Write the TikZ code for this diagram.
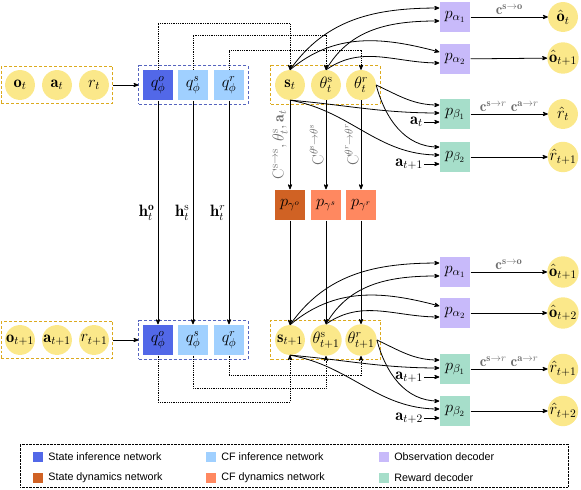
\RequirePackage{fix-cm}
\documentclass[tikz,border=0pt]{standalone}
\usepackage{fontspec}
\usepackage{tikz}
\usetikzlibrary{arrows,fit,positioning}
\newfontfamily\legendfont{Liberation Sans}

\begin{document}
\begin{tikzpicture}[x=1bp,y=1bp,>=stealth',
  every node/.style={font=\fontsize{16.5}{19}\selectfont},
  var/.style={circle,fill=varColor,inner sep=0pt,minimum size=30pt},
  net/.style={rectangle,inner sep=0pt,minimum size=31pt},
  grp/.style={draw,densely dashed,line width=0.8pt,inner sep=3.5pt},
  link/.style={->,thick},
  dotlink/.style={->,thick,densely dotted},
  clabel/.style={color=labelGray,font=\fontsize{15}{17}\selectfont,inner sep=2pt},
  vlabel/.style={color=labelGray,rotate=90,above,inner sep=2pt,font=\fontsize{16}{18}\selectfont},
  inlabel/.style={anchor=east,inner sep=1pt},
  legendbox/.style={rectangle,inner sep=0pt,minimum size=10pt},
  legendtext/.style={font=\legendfont\fontsize{10.8}{13}\selectfont,inner sep=1pt}]
\useasboundingbox (0,0) rectangle (581,490);
\definecolor{varColor}{RGB}{251,232,138}
\definecolor{varLine}{RGB}{220,170,30}
\definecolor{netLine}{RGB}{85,100,190}
\definecolor{infState}{RGB}{82,104,232}
\definecolor{infCF}{RGB}{160,208,255}
\definecolor{decObs}{RGB}{200,186,250}
\definecolor{decRew}{RGB}{166,222,202}
\definecolor{dynState}{RGB}{208,98,36}
\definecolor{dynCF}{RGB}{255,136,96}
\definecolor{labelGray}{RGB}{110,110,110}

% time t
\node[var] (oT) at (20,405) {$\mathbf{o}_t$};
\node[var] (aT) at (57,405) {$\mathbf{a}_t$};
\node[var] (rT) at (94,405) {$r_t$};
\node[grp,draw=varLine,fit=(oT)(aT)(rT)] (inT) {};
\node[net,fill=infState] (qoT) at (158,405) {$q^{o}_{\phi}$};
\node[net,fill=infCF] (qsT) at (193,405) {$q^{s}_{\phi}$};
\node[net,fill=infCF] (qrT) at (229,405) {$q^{r}_{\phi}$};
\node[grp,draw=netLine,fit=(qoT)(qsT)(qrT)] (qT) {};
\node[var] (sT) at (290,405) {$\mathbf{s}_t$};
\node[var] (thsT) at (326,405) {$\theta^{\mathrm{s}}_t$};
\node[var] (thrT) at (361,405) {$\theta^{r}_t$};
\node[grp,draw=varLine,inner sep=4pt,fit=(sT)(thsT)(thrT)] (zT) {};
\node[net,fill=decObs] (pa1T) at (455,473) {$p_{\alpha_1}$};
\node[net,fill=decObs] (pa2T) at (455,431) {$p_{\alpha_2}$};
\node[net,fill=decRew] (pb1T) at (455,376) {$p_{\beta_1}$};
\node[net,fill=decRew] (pb2T) at (455,333) {$p_{\beta_2}$};
\node[var] (ohT) at (563,473) {$\hat{\mathbf{o}}_t$};
\node[var] (ohTn) at (563,432) {$\hat{\mathbf{o}}_{t+1}$};
\node[var] (rhT) at (563,376) {$\hat{r}_t$};
\node[var] (rhTn) at (563,333) {$\hat{r}_{t+1}$};
\node[inlabel] (ab1T) at (424,368) {$\mathbf{a}_t$};
\node[inlabel] (ab2T) at (424,326) {$\mathbf{a}_{t+1}$};

% dynamics
\node[net,fill=dynState] (pgo) at (290,285) {$p_{\gamma^{o}}$};
\node[net,fill=dynCF] (pgs) at (326,285) {$p_{\gamma^{s}}$};
\node[net,fill=dynCF] (pgr) at (361,285) {$p_{\gamma^{r}}$};

% time t+1
\node[var] (oN) at (20,150) {$\mathbf{o}_{t+1}$};
\node[var] (aN) at (57,150) {$\mathbf{a}_{t+1}$};
\node[var] (rN) at (94,150) {$r_{t+1}$};
\node[grp,draw=varLine,fit=(oN)(aN)(rN)] (inN) {};
\node[net,fill=infState] (qoN) at (158,150) {$q^{o}_{\phi}$};
\node[net,fill=infCF] (qsN) at (193,150) {$q^{s}_{\phi}$};
\node[net,fill=infCF] (qrN) at (229,150) {$q^{r}_{\phi}$};
\node[grp,draw=netLine,fit=(qoN)(qsN)(qrN)] (qN) {};
\node[var] (sN) at (290,150) {$\mathbf{s}_{t+1}$};
\node[var] (thsN) at (326,150) {$\theta^{\mathrm{s}}_{t+1}$};
\node[var] (thrN) at (361,150) {$\theta^{r}_{t+1}$};
\node[grp,draw=varLine,inner sep=4pt,fit=(sN)(thsN)(thrN)] (zN) {};
\node[net,fill=decObs] (pa1N) at (455,218) {$p_{\alpha_1}$};
\node[net,fill=decObs] (pa2N) at (455,177) {$p_{\alpha_2}$};
\node[net,fill=decRew] (pb1N) at (455,121) {$p_{\beta_1}$};
\node[net,fill=decRew] (pb2N) at (455,79) {$p_{\beta_2}$};
\node[var] (ohN) at (563,218) {$\hat{\mathbf{o}}_{t+1}$};
\node[var] (ohNn) at (563,177) {$\hat{\mathbf{o}}_{t+2}$};
\node[var] (rhN) at (563,121) {$\hat{r}_{t+1}$};
\node[var] (rhNn) at (563,79) {$\hat{r}_{t+2}$};
\node[inlabel] (ab1N) at (424,113) {$\mathbf{a}_{t+1}$};
\node[inlabel] (ab2N) at (424,72) {$\mathbf{a}_{t+2}$};

% inference
\draw[link] (inT) -- (qT);
\draw[link] (inN) -- (qN);
\draw[link] (qoT) -- node[left] {$\mathbf{h}^{\mathbf{o}}_t$} (qoN);
\draw[link] (qsT) -- node[left] {$\mathbf{h}^{\mathrm{s}}_t$} (qsN);
\draw[link] (qrT) -- node[left] {$\mathbf{h}^{r}_t$} (qrN);
\coordinate (upO) at (0,467);
\coordinate (upS) at (0,455);
\coordinate (upR) at (0,440);
\coordinate (downO) at (0,88);
\coordinate (downS) at (0,102);
\coordinate (downR) at (0,115);
\draw[dotlink] (qoT.north) -- (qoT.north |- upO) -| (sT.north);
\draw[dotlink] (qsT.north) -- (qsT.north |- upS) -| (thsT.north);
\draw[dotlink] (qrT.north) -- (qrT.north |- upR) -| (thrT.north);
\draw[dotlink] (qoN.south) -- (qoN.south |- downO) -| (sN.south);
\draw[dotlink] (qsN.south) -- (qsN.south |- downS) -| (thsN.south);
\draw[dotlink] (qrN.south) -- (qrN.south |- downR) -| (thrN.south);

% transitions
\draw[link] (sT) -- node[vlabel] {$\mathrm{C}^{\mathrm{s}\to\mathrm{s}},\theta^{\mathrm{s}}_t,\mathbf{a}_t$} (pgo);
\draw[link] (thsT) -- node[vlabel] {$\mathrm{C}^{\theta^{\mathrm{s}}\to\theta^{\mathrm{s}}}$} (pgs);
\draw[link] (thrT) -- node[vlabel] {$\mathrm{C}^{\theta^{r}\to\theta^{r}}$} (pgr);
\draw[link] (pgo) -- (sN);
\draw[link] (pgs) -- (thsN);
\draw[link] (pgr) -- (thrN);

% decoders
\foreach \t in {T,N} {
  \draw[link] (s\t.north) to[out=55,in=180] ([yshift=9pt]pa1\t.west);
  \draw[link] (s\t.north) to[out=40,in=165] ([yshift=7pt]pa2\t.west);
  \draw[link] (ths\t.north) to[out=60,in=180] ([yshift=-4pt]pa1\t.west);
  \draw[link] (ths\t.north) to[out=35,in=180] ([yshift=-4pt]pa2\t.west);
  \draw[link] (thr\t.east) to[out=-25,in=180] ([yshift=9pt]pb1\t.west);
  \draw[link] (thr\t.east) to[out=-75,in=180] ([yshift=10pt]pb2\t.west);
  \draw[link] (s\t.south) to[out=-5,in=180] ([yshift=1pt]pb1\t.west);
  \draw[link] (s\t.south) to[out=-10,in=180] ([yshift=2pt]pb2\t.west);
  \draw[link] (ab1\t) -- (ab1\t -| pb1\t.west);
  \draw[link] (ab2\t) -- (ab2\t -| pb2\t.west);
  \draw[link] (pa1\t) -- node[above,clabel] {$\mathbf{c}^{\mathbf{s}\to\mathbf{o}}$} (oh\t);
  \draw[link] (pa2\t) -- (oh\t n);
  \draw[link] (pb1\t) -- node[above,clabel] {$\mathbf{c}^{\mathbf{s}\to r}\;\mathbf{c}^{\mathbf{a}\to r}$} (rh\t);
  \draw[link] (pb2\t) -- (rh\t n);
}

% legend
\draw[densely dotted] (20,3) rectangle (568,46);
\foreach \n/\x/\y/\c/\txt in {1/38/33/infState/State inference network,
    2/211/33/infCF/CF inference network,
    3/384/33/decObs/Observation decoder,
    4/38/12/dynState/State dynamics network,
    5/211/12/dynCF/CF dynamics network,
    6/384/12/decRew/Reward decoder} {
  \node[legendbox,fill=\c] (lg\n) at (\x,\y) {};
  \node[legendtext,right=4pt of lg\n] (lgt\n) {\txt};
}
\end{tikzpicture}
\end{document}
